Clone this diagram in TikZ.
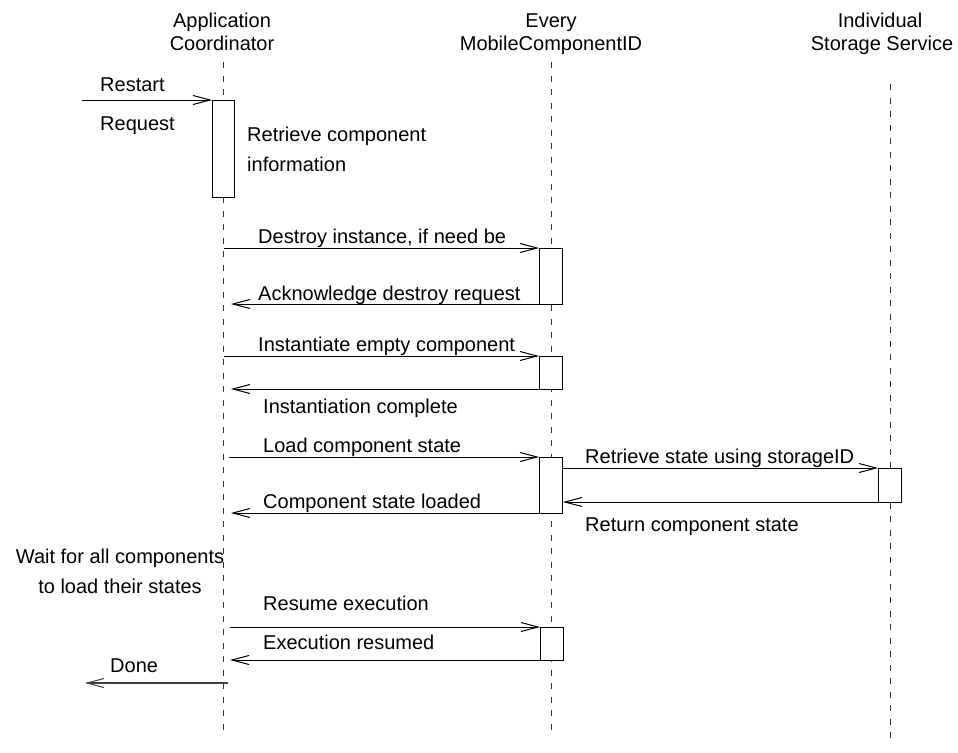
\documentclass[tikz,border=0pt]{standalone}
\usepackage{fontspec}
\setmainfont{Liberation Sans}
\usetikzlibrary{arrows.meta}
\begin{document}
\begin{tikzpicture}[x=1pt,y=-1pt,
  txt/.style={inner sep=0pt,font=\fontsize{20}{24}\selectfont},
  lifeline/.style={draw=black!80,line width=1pt,dash pattern=on 6pt off 7.5pt},
  actbox/.style={draw=black,fill=white,line width=1pt},
  msg/.style={draw=black,line width=1pt,-{Straight Barb[length=17pt,width=9pt,line width=1pt]}}]
\useasboundingbox (0,0) rectangle (958,752);
\fill[white] (0,0) rectangle (958,752);
% headers
\node[txt,anchor=base] (h1a) at (222,28) {Application};
\node[txt,anchor=base] (h1b) at (222,51) {Coordinator};
\node[txt,anchor=base] (h2a) at (551,28) {Every};
\node[txt,anchor=base] (h2b) at (551,51) {MobileComponentID};
\node[txt,anchor=base] (h3a) at (880,28) {Individual};
\node[txt,anchor=base] (h3b) at (882,51) {Storage Service};
% lifelines
\coordinate (acT) at (223,62); \coordinate (acB) at (223,735);
\coordinate (evT) at (551,62); \coordinate (evB) at (551,735);
\coordinate (isT) at (890,84); \coordinate (isB) at (890,745);
\draw[lifeline] (acT) -- (acB);
\draw[lifeline] (evT) -- (evB);
\draw[lifeline] (isT) -- (isB);
% activation boxes
\draw[actbox] (212,100) rectangle (234,197);
\coordinate (acbox) at (212,100);
\draw[actbox] (539,248) rectangle (562,304);
\draw[actbox] (539,356) rectangle (562,389);
\draw[actbox] (539,457) rectangle (562,513);
\draw[actbox] (878,468) rectangle (901,502);
\draw[actbox] (540,627) rectangle (563,660);
% coordinates of message ends
\coordinate (m1s) at (82,100);
\coordinate (m2s) at (224,248); \coordinate (m2e) at (539,248);
\coordinate (m3s) at (539,304); \coordinate (m3e) at (231,304);
\coordinate (m4s) at (224,356); \coordinate (m4e) at (539,356);
\coordinate (m5s) at (539,389); \coordinate (m5e) at (231,389);
\coordinate (m6s) at (229,457); \coordinate (m6e) at (539,457);
\coordinate (m7s) at (539,513); \coordinate (m7e) at (231,513);
\coordinate (m8s) at (562,468); \coordinate (m8e) at (878,468);
\coordinate (m9s) at (878,502); \coordinate (m9e) at (563,502);
\coordinate (m10s) at (230,627); \coordinate (m10e) at (540,627);
\coordinate (m11s) at (540,660); \coordinate (m11e) at (230,660);
\coordinate (m12s) at (228,683); \coordinate (m12e) at (85,683);
% messages
\draw[msg] (m1s) -- (acbox);
\draw[msg] (m2s) -- (m2e);
\draw[msg] (m3s) -- (m3e);
\draw[msg] (m4s) -- (m4e);
\draw[msg] (m5s) -- (m5e);
\draw[msg] (m6s) -- (m6e);
\draw[msg] (m7s) -- (m7e);
\draw[msg] (m8s) -- (m8e);
\draw[msg] (m9s) -- (m9e);
\draw[msg] (m10s) -- (m10e);
\draw[msg] (m11s) -- (m11e);
\draw[msg,draw=black!75,line width=1.3pt] (m12s) -- (m12e);
% labels
\node[txt,anchor=base west] (l1) at (100,91) {Restart};
\node[txt,anchor=base west] (l1b) at (100,130) {Request};
\node[txt,anchor=base west] (l2) at (247,141) {Retrieve component};
\node[txt,anchor=base west] (l2b) at (247,171) {information};
\node[txt,anchor=base west] (l3) at (258,243) {Destroy instance, if need be};
\node[txt,anchor=base west] (l4) at (258,300) {Acknowledge destroy request};
\node[txt,anchor=base west] (l5) at (258,351) {Instantiate empty component};
\node[txt,anchor=base west] (l6) at (263,413) {Instantiation complete};
\node[txt,anchor=base west] (l7) at (263,452) {Load component state};
\node[txt,anchor=base west] (l8) at (263,508) {Component state loaded};
\node[txt,anchor=base west] (l9) at (585,463) {Retrieve state using storageID};
\node[txt,anchor=base west] (l10) at (585,531) {Return component state};
\node[txt,anchor=base] (l11) at (120,563) {Wait for all components};
\node[txt,anchor=base] (l11b) at (120,593) {to load their states};
\node[txt,anchor=base west] (l12) at (263,610) {Resume execution};
\node[txt,anchor=base west] (l13) at (263,649) {Execution resumed};
\node[txt,anchor=base west] (l14) at (110,672) {Done};
\end{tikzpicture}
\end{document}
